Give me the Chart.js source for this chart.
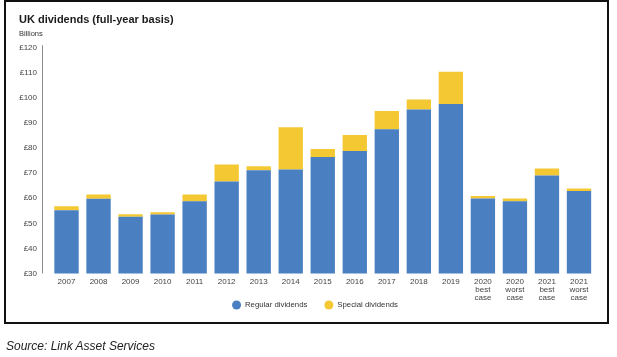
<!DOCTYPE html>
<html>
<head>
<meta charset="utf-8">
<script src="https://cdn.jsdelivr.net/npm/chart.js@4"></script>
<style>
  html, body { margin: 0; padding: 0; background: #fff; }
  body { width: 617px; height: 357px; position: relative; overflow: hidden; font-family: "Liberation Sans", Arial, Helvetica, sans-serif; }
  #frame { position: absolute; left: 4px; top: 0px; width: 605px; height: 324px; box-sizing: border-box; border: 2px solid #111; }
  #chart { position: absolute; left: 0; top: 0; }
  #title { position: absolute; left: 19px; top: 12px; font-size: 11px; line-height: 14px; font-weight: bold; color: #1a1a1a; white-space: nowrap; }
  #unit { position: absolute; left: 19px; top: 28.5px; font-size: 7.5px; line-height: 10px; color: #333; white-space: nowrap; }
  #source { position: absolute; left: 6px; top: 339px; font-size: 12px; line-height: 14px; font-style: italic; color: #222; white-space: nowrap; }
</style>
</head>
<body>
<div id="frame"><canvas id="chart" width="601" height="340"></canvas></div>
<div id="title">UK dividends (full-year basis)</div>
<div id="unit">Billions</div>
<div id="source">Source: Link Asset Services</div>
<script>
const categories = ["2007","2008","2009","2010","2011","2012","2013","2014","2015","2016","2017","2018","2019",
  ["2020","best","case"],["2020","worst","case"],["2021","best","case"],["2021","worst","case"]];
const regularDividends = [55.2, 59.8, 52.6, 53.5, 58.8, 66.7, 71.2, 71.5, 76.4, 78.8, 87.5, 95.4, 97.6, 59.9, 58.8, 69.1, 62.9];
const specialDividends = [1.6, 1.7, 1.0, 0.9, 2.7, 6.7, 1.5, 16.8, 3.2, 6.4, 7.3, 4.0, 12.8, 1.0, 1.1, 2.8, 1.0];
const yTicks = [30, 40, 50, 60, 70, 80, 90, 100, 110, 120];
const seriesNames = ["Regular dividends", "Special dividends"];
const colors = ["#4a7fc1", "#f4c832"];
const FONT = '"Liberation Sans", Arial, Helvetica, sans-serif';

// draws the y axis rule a little left of the plot area, as in the original
const axisLine = {
  id: 'axisLine',
  afterDraw(chart) {
    const {ctx, chartArea} = chart;
    const x = Math.round(chartArea.left - 8.2) + 0.5;
    ctx.save();
    ctx.strokeStyle = '#8c8c8c';
    ctx.lineWidth = 1;
    ctx.beginPath();
    ctx.moveTo(x, chartArea.top - 2.5);
    ctx.lineTo(x, chartArea.bottom);
    ctx.stroke();
    ctx.restore();
  }
};

// tuck the legend up under the category labels, centred like the original
const legendPlace = {
  id: 'legendPlace',
  afterLayout(chart) {
    const lg = chart.legend;
    if (!lg) return;
    const h = lg.bottom - lg.top;
    const newTop = chart.chartArea.bottom + 10.6;
    lg.top = newTop; lg.bottom = newTop + h;
    lg.left += 8; lg.right += 8;
  }
};

new Chart(document.getElementById('chart'), {
  type: 'bar',
  data: {
    labels: categories,
    datasets: [
      { label: seriesNames[0], data: regularDividends, backgroundColor: colors[0], borderWidth: 0 },
      { label: seriesNames[1], data: specialDividends, backgroundColor: colors[1], borderWidth: 0 }
    ]
  },
  options: {
    responsive: false,
    animation: false,
    devicePixelRatio: 1,
    datasets: { bar: { barPercentage: 0.76, categoryPercentage: 1.0 } },
    layout: { padding: { left: 13, right: 12, top: 45.7, bottom: 3.7 } },
    scales: {
      x: {
        stacked: true,
        grid: { display: false, drawTicks: false },
        border: { display: false },
        ticks: {
          padding: 4, color: '#444', maxRotation: 0, autoSkip: false,
          font: { family: FONT, size: 8, lineHeight: 1.03 }
        },
        afterFit(axis) { axis.height = 30; }
      },
      y: {
        stacked: true,
        min: 30, max: 120,
        grid: { display: false, drawTicks: false },
        border: { display: false },
        afterBuildTicks(axis) { axis.ticks = yTicks.map(v => ({ value: v })); },
        afterFit(axis) { axis.width = 31.5; },
        ticks: {
          padding: 13.5, color: '#444',
          font: { family: FONT, size: 8 },
          callback: v => '£' + v
        }
      }
    },
    plugins: {
      title: { display: false },
      tooltip: { enabled: false },
      legend: {
        display: true,
        position: 'bottom',
        align: 'center',
        labels: {
          usePointStyle: true,
          pointStyle: 'circle',
          pointStyleWidth: 9,
          boxHeight: 6.4,
          padding: 17,
          color: '#333',
          font: { family: FONT, size: 7.8 }
        }
      }
    }
  },
  plugins: [axisLine, legendPlace]
});
</script>
</body>
</html>
